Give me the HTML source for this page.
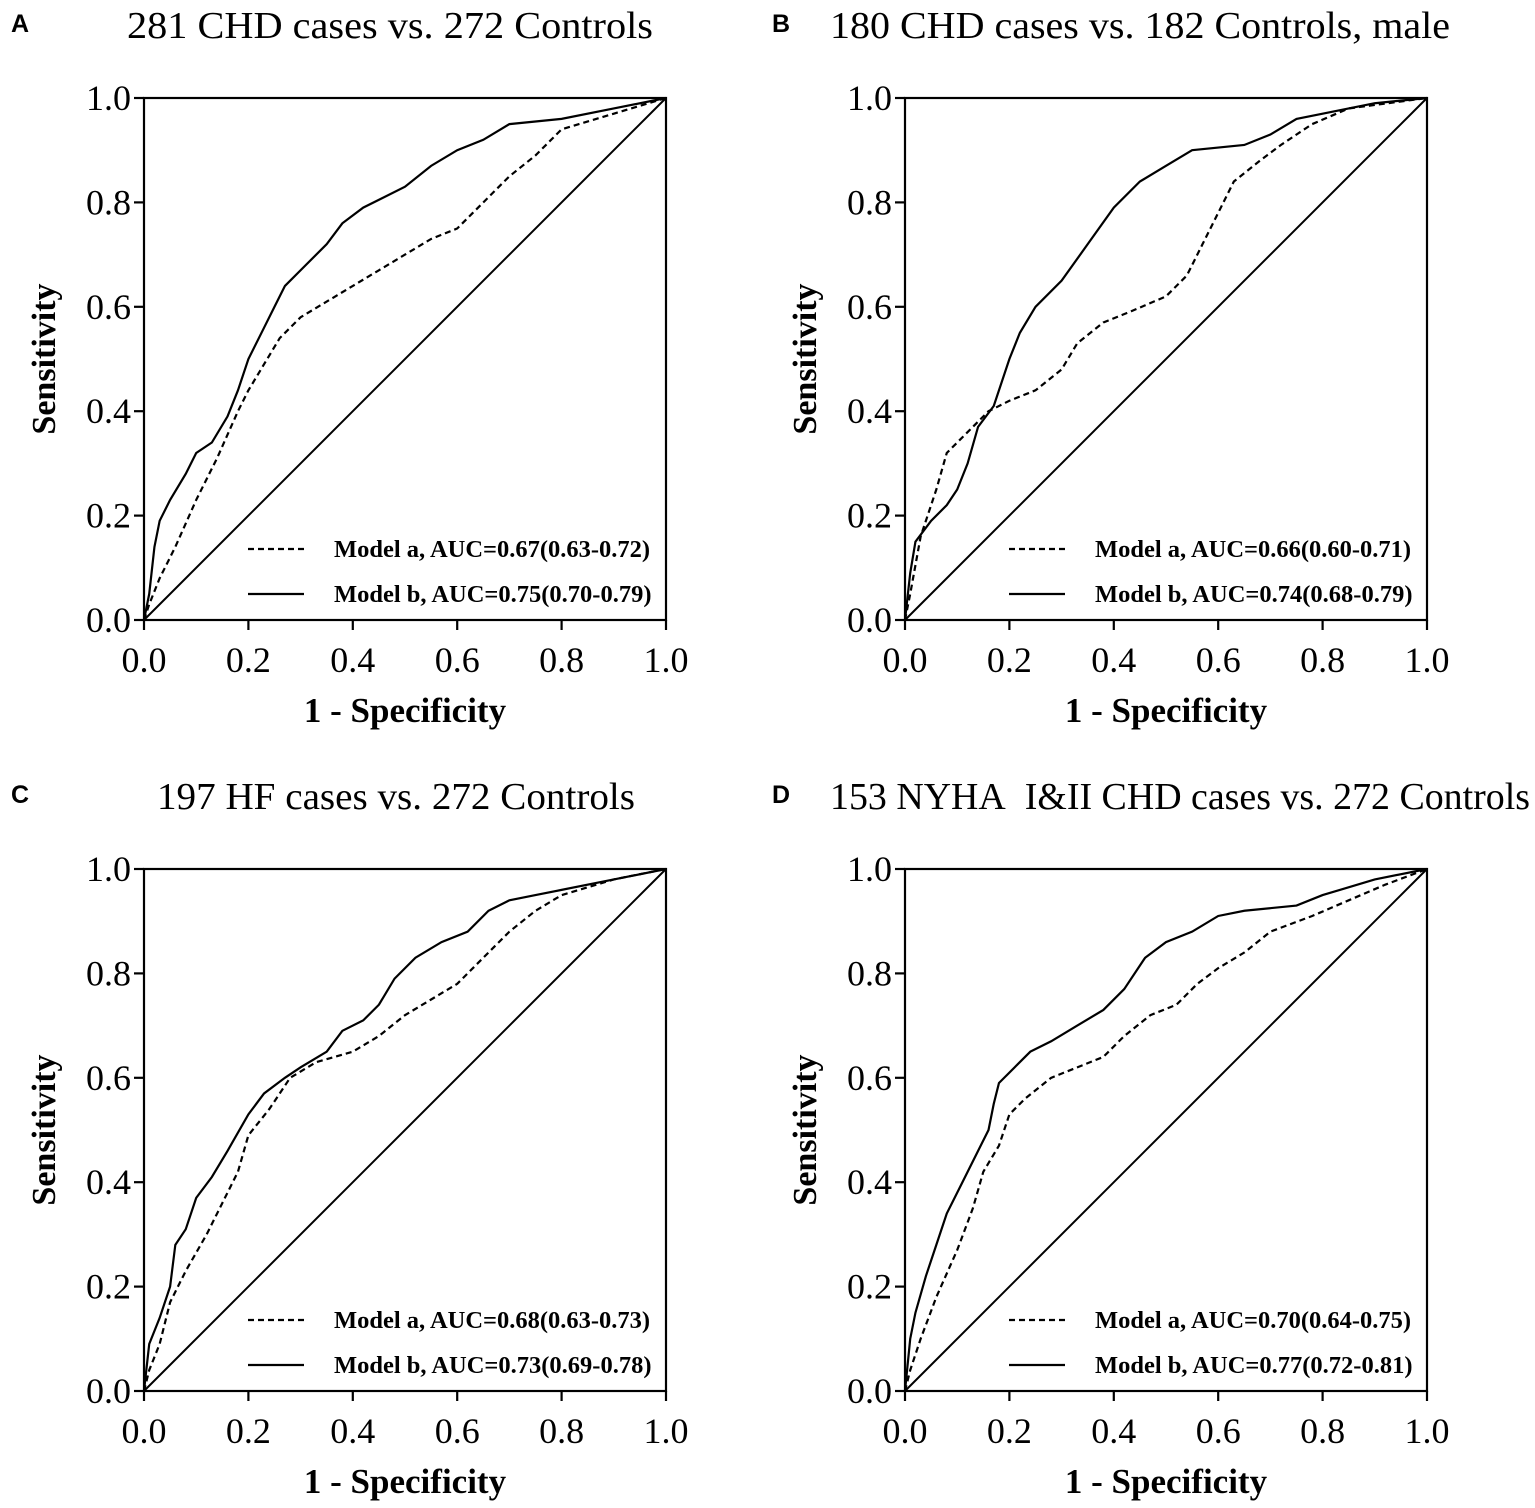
<!DOCTYPE html>
<html><head><meta charset="utf-8"><style>
html,body{margin:0;padding:0;background:#fff;}
svg{display:block;}
text{font-family:"Liberation Serif",serif;fill:#000;white-space:pre;}
</style></head><body>
<svg id="fig" width="1535" height="1508" viewBox="0 0 1535 1508" xmlns="http://www.w3.org/2000/svg"></svg>
<script>
const panelLetters = ["A","B","C","D"];
const panelTitles = ["281 CHD cases vs. 272 Controls","180 CHD cases vs. 182 Controls, male","197 HF cases vs. 272 Controls","153 NYHA\u00a0\u00a0I&II CHD cases vs. 272 Controls"];
const titleStart = [127, 830, 157, 830];
const titleWidth = [526, 620, 478, 700];
const legendA = ["Model a, AUC=0.67(0.63-0.72)","Model a, AUC=0.66(0.60-0.71)","Model a, AUC=0.68(0.63-0.73)","Model a, AUC=0.70(0.64-0.75)"];
const legendB = ["Model b, AUC=0.75(0.70-0.79)","Model b, AUC=0.74(0.68-0.79)","Model b, AUC=0.73(0.69-0.78)","Model b, AUC=0.77(0.72-0.81)"];
const tickLabels = ["0.0","0.2","0.4","0.6","0.8","1.0"];
const tickValues = [0,0.2,0.4,0.6,0.8,1.0];
const modelB_A = [[0,0],[0.01,0.05],[0.02,0.14],[0.03,0.19],[0.05,0.23],[0.08,0.28],[0.1,0.32],[0.13,0.34],[0.16,0.39],[0.18,0.44],[0.2,0.5],[0.23,0.56],[0.25,0.6],[0.27,0.64],[0.3,0.67],[0.35,0.72],[0.38,0.76],[0.42,0.79],[0.5,0.83],[0.55,0.87],[0.6,0.9],[0.65,0.92],[0.7,0.95],[0.8,0.96],[0.9,0.98],[1,1]];
const modelA_A = [[0,0],[0.01,0.03],[0.03,0.08],[0.06,0.14],[0.1,0.23],[0.14,0.31],[0.18,0.4],[0.2,0.44],[0.23,0.49],[0.26,0.54],[0.3,0.58],[0.35,0.61],[0.4,0.64],[0.45,0.67],[0.5,0.7],[0.55,0.73],[0.6,0.75],[0.63,0.78],[0.66,0.81],[0.7,0.85],[0.75,0.89],[0.8,0.94],[0.9,0.97],[1,1]];
const modelB_B = [[0,0],[0.01,0.09],[0.02,0.15],[0.05,0.19],[0.08,0.22],[0.1,0.25],[0.12,0.3],[0.14,0.37],[0.17,0.41],[0.2,0.5],[0.22,0.55],[0.25,0.6],[0.3,0.65],[0.35,0.72],[0.4,0.79],[0.45,0.84],[0.5,0.87],[0.55,0.9],[0.65,0.91],[0.7,0.93],[0.75,0.96],[0.8,0.97],[0.9,0.99],[1,1]];
const modelA_B = [[0,0],[0.01,0.05],[0.03,0.16],[0.06,0.25],[0.08,0.32],[0.12,0.36],[0.16,0.4],[0.2,0.42],[0.25,0.44],[0.3,0.48],[0.33,0.53],[0.38,0.57],[0.43,0.59],[0.5,0.62],[0.54,0.66],[0.57,0.72],[0.6,0.78],[0.63,0.84],[0.68,0.88],[0.72,0.91],[0.78,0.95],[0.85,0.98],[1,1]];
const modelB_C = [[0,0],[0.01,0.09],[0.03,0.14],[0.05,0.2],[0.06,0.28],[0.08,0.31],[0.1,0.37],[0.13,0.41],[0.16,0.46],[0.2,0.53],[0.23,0.57],[0.27,0.6],[0.3,0.62],[0.35,0.65],[0.38,0.69],[0.42,0.71],[0.45,0.74],[0.48,0.79],[0.52,0.83],[0.57,0.86],[0.62,0.88],[0.66,0.92],[0.7,0.94],[0.75,0.95],[0.8,0.96],[0.9,0.98],[1,1]];
const modelA_C = [[0,0],[0.01,0.04],[0.03,0.09],[0.05,0.17],[0.08,0.23],[0.12,0.3],[0.15,0.36],[0.18,0.42],[0.2,0.49],[0.24,0.54],[0.28,0.6],[0.33,0.63],[0.4,0.65],[0.45,0.68],[0.5,0.72],[0.55,0.75],[0.6,0.78],[0.65,0.83],[0.7,0.88],[0.75,0.92],[0.8,0.95],[0.9,0.98],[1,1]];
const modelB_D = [[0,0],[0.01,0.1],[0.02,0.15],[0.04,0.22],[0.06,0.28],[0.08,0.34],[0.11,0.4],[0.14,0.46],[0.16,0.5],[0.17,0.55],[0.18,0.59],[0.21,0.62],[0.24,0.65],[0.28,0.67],[0.33,0.7],[0.38,0.73],[0.42,0.77],[0.46,0.83],[0.5,0.86],[0.55,0.88],[0.6,0.91],[0.65,0.92],[0.75,0.93],[0.8,0.95],[0.9,0.98],[1,1]];
const modelA_D = [[0,0],[0.01,0.04],[0.03,0.1],[0.06,0.18],[0.1,0.27],[0.13,0.35],[0.15,0.42],[0.18,0.47],[0.2,0.53],[0.23,0.56],[0.28,0.6],[0.33,0.62],[0.38,0.64],[0.42,0.68],[0.47,0.72],[0.52,0.74],[0.56,0.78],[0.6,0.81],[0.65,0.84],[0.7,0.88],[0.78,0.91],[0.85,0.94],[0.92,0.97],[1,1]];
const seriesB = [modelB_A, modelB_B, modelB_C, modelB_D];
const seriesA = [modelA_A, modelA_B, modelA_C, modelA_D];

const NS = "http://www.w3.org/2000/svg";
const svg = document.getElementById("fig");
function mk(tag, attrs, parent, txt){
  const e = document.createElementNS(NS, tag);
  for (const k in attrs) e.setAttribute(k, attrs[k]);
  if (txt !== undefined) e.textContent = txt;
  (parent || svg).appendChild(e);
  return e;
}
const origins = [[144,98],[905,98],[144,869],[905,869]];
const W = 522, H = 522;
for (let p = 0; p < 4; p++){
  const ox = origins[p][0], oy = origins[p][1];
  const xs = v => ox + v * W;
  const ys = v => oy + H - v * H;
  const g = mk("g", {});
  
  
  const lt = mk("text", {x: ox - 133, y: oy - 66, "font-size": 25, "font-weight": "bold", style: 'font-family:"Liberation Sans",sans-serif'}, g, panelLetters[p]);
  
  
  const tt = mk("text", {x: titleStart[p], y: oy - 60, "font-size": 38, textLength: titleWidth[p], lengthAdjust: "spacingAndGlyphs"}, g, panelTitles[p]);
  
  
  const fr = mk("rect", {x: ox, y: oy, width: W, height: H, fill: "none", stroke: "#000", "stroke-width": 2.2}, g);
  
  
  for (let i = 0; i < tickValues.length; i++){
    const v = tickValues[i];
    const tx = mk("line", {x1: xs(v), x2: xs(v), y1: oy + H, y2: oy + H + 10, stroke: "#000", "stroke-width": 2.2}, g);
    
    
    const xl = mk("text", {x: xs(v), y: oy + H + 52, "font-size": 36, "text-anchor": "middle"}, g, tickLabels[i]);
    
    
    const ty = mk("line", {x1: ox - 10, x2: ox, y1: ys(v), y2: ys(v), stroke: "#000", "stroke-width": 2.2}, g);
    
    
    const yl = mk("text", {x: ox - 13, y: ys(v) + 12, "font-size": 36, "text-anchor": "end"}, g, tickLabels[i]);
    
    
  }
  const xt = mk("text", {x: ox + W/2, y: oy + H + 102, "font-size": 35, "font-weight": "bold", "text-anchor": "middle"}, g, "1 - Specificity");
  
  
  const yt = mk("text", {x: 0, y: 0, "font-size": 34, "font-weight": "bold", "text-anchor": "middle", transform: `translate(${ox - 89},${oy + H/2}) rotate(-90)`}, g, "Sensitivity");
  
  
  const dg = mk("line", {x1: xs(0), y1: ys(0), x2: xs(1), y2: ys(1), stroke: "#000", "stroke-width": 2}, g);
  
  
  const pa = mk("polyline", {points: seriesA[p].map(d => xs(d[0]) + "," + ys(d[1])).join(" "), fill: "none", stroke: "#000", "stroke-width": 2.2, "stroke-dasharray": "6,4"}, g);
  
  
  const pb = mk("polyline", {points: seriesB[p].map(d => xs(d[0]) + "," + ys(d[1])).join(" "), fill: "none", stroke: "#000", "stroke-width": 2.2}, g);
  
  
  const la = mk("line", {x1: ox + 104, x2: ox + 160, y1: oy + 451, y2: oy + 451, stroke: "#000", "stroke-width": 2.2, "stroke-dasharray": "6,4"}, g);
  
  
  const lta = mk("text", {x: ox + 190, y: oy + 459, "font-size": 24.5, "font-weight": "bold"}, g, legendA[p]);
  
  
  const lb = mk("line", {x1: ox + 104, x2: ox + 160, y1: oy + 496, y2: oy + 496, stroke: "#000", "stroke-width": 2.2}, g);
  
  
  const ltb = mk("text", {x: ox + 190, y: oy + 504, "font-size": 24.5, "font-weight": "bold"}, g, legendB[p]);
  
  
}
</script>
</body></html>
